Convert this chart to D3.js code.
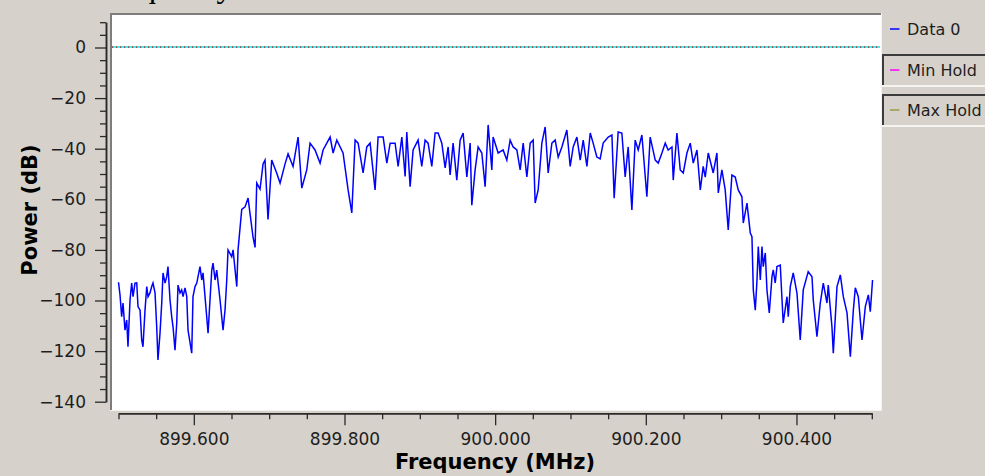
<!DOCTYPE html>
<html>
<head>
<meta charset="utf-8">
<script src="https://cdn.jsdelivr.net/npm/d3@7"></script>
<style>
  html, body { margin: 0; padding: 0; background: #d6d2cb; }
  svg { display: block; }
</style>
</head>
<body>
<svg id="chart" width="985" height="476"></svg>
<script>
// ---------------- DATA ----------------
const titleText = "Frequency";
const xLabel = "Frequency (MHz)";
const yLabel = "Power (dB)";
const startFreqMHz = 899.5;
const xDomain = [899.5, 900.5];
const yDomain = [-140, 10];
const xMajorTicks = [899.6, 899.8, 900.0, 900.2, 900.4];
const xMinorTicks = [899.5, 899.55, 899.65, 899.7, 899.75, 899.85, 899.9, 899.95, 900.05, 900.1, 900.15, 900.25, 900.3, 900.35, 900.45, 900.5];
const yMajorTicks = [0, -20, -40, -60, -80, -100, -120, -140];
const yMinorTicks = [10, 5, -5, -10, -15, -25, -30, -35, -45, -50, -55, -65, -70, -75, -85, -90, -95, -105, -110, -115, -125, -130, -135];
const legendNames = ["Data 0", "Min Hold", "Max Hold"];
const legendColors = ["#0000ff", "#ff00ff", "#9a9a4a"];

// offset from startFreqMHz in kHz
const freqOffsetKHz = [
  0.0, 2.0, 4.2, 6.0, 8.6, 10.9, 12.6, 15.3, 17.5, 19.3, 21.9, 24.2, 25.9, 28.6, 30.8, 32.5, 35.2, 37.5, 39.2, 41.8,
  44.1, 45.8, 48.5, 50.7, 52.4, 55.1, 57.4, 59.1, 61.8, 64.0, 65.7, 68.4, 70.6, 72.4, 75.0, 77.3, 79.0, 81.7, 83.9, 85.7,
  88.3, 90.6, 92.3, 97.2, 98.9, 101.6, 103.9, 105.6, 108.2, 110.5, 112.2, 117.1, 118.9, 123.8, 125.5, 128.2, 130.4, 134.8, 138.8, 141.4,
  143.7, 145.4, 150.3, 152.1, 157.0, 158.7, 163.6, 168.0, 172.0, 178.6, 181.3, 183.5, 187.9, 191.9, 194.5, 198.5, 203.4, 210.1, 214.5, 221.1,
  225.1, 231.7, 238.4, 243.3, 249.9, 254.3, 260.9, 267.6, 271.6, 280.9, 284.9, 289.8, 298.1, 304.8, 309.7, 314.1, 318.1, 324.7, 329.6, 334.0,
  340.6, 344.6, 351.3, 356.2, 360.6, 367.2, 371.2, 376.1, 380.5, 382.7, 387.1, 391.1, 397.7, 402.6, 407.0, 411.0, 415.9, 420.3, 424.3, 429.2,
  433.6, 437.6, 440.2, 444.2, 449.1, 453.5, 457.5, 462.4, 466.8, 469.0, 473.4, 477.4, 482.3, 486.7, 490.7, 495.6, 497.3, 504.0, 510.6, 515.5,
  519.9, 523.9, 528.8, 533.2, 537.2, 542.1, 546.5, 550.5, 553.1, 557.1, 562.0, 566.4, 570.4, 575.3, 579.7, 583.7, 588.6, 595.2, 599.6, 603.6,
  608.5, 612.9, 616.9, 621.8, 626.2, 630.1, 635.0, 639.4, 643.4, 650.1, 655.0, 658.0, 663.3, 668.2, 672.6, 676.6, 681.5, 685.9, 689.9, 694.8,
  701.4, 705.8, 712.5, 716.5, 721.4, 725.8, 729.7, 734.7, 736.4, 741.3, 745.7, 749.7, 754.6, 759.0, 763.0, 767.9, 772.3, 776.2, 778.9, 782.9,
  789.5, 794.4, 796.2, 801.0, 805.4, 809.4, 814.3, 818.7, 822.7, 827.6, 829.4, 834.3, 838.7, 840.9, 842.7, 845.3, 847.6, 849.3, 852.0, 854.2,
  855.9, 858.6, 860.8, 863.9, 867.5, 869.2, 871.8, 874.1, 878.5, 880.7, 882.4, 887.4, 889.1, 891.8, 895.7, 900.7, 905.0, 909.0, 915.6, 920.6,
  922.3, 927.2, 931.6, 935.6, 940.5, 942.2, 947.1, 948.9, 953.8, 958.2, 962.2, 967.1, 971.5, 975.5, 978.1, 982.1, 987.0, 991.4, 995.4, 998.0,
  1001.0
];
const powerDb = [
  -92.8, -97.8, -106.4, -101, -111.7, -107.7, -118.3, -99.8, -93.1, -98.5, -93.1, -93.0, -102.4, -103.8, -115.6, -118.3, -103.8, -94.5, -98.5, -97.0,
  -94.5, -93.1, -97.0, -110.4, -123.5, -112.9, -101, -89.1, -93.1, -90.6, -86.6, -99.8, -106.4, -110.4, -119.6, -109, -93.9, -97, -95.8, -98.5,
  -95, -98.5, -111.7, -120.8, -98.5, -94.5, -93.1, -90.6, -86.6, -91.9, -89.1, -106.4, -112.9, -88, -85.2, -91.9, -88, -99.8, -111.7, -103.8,
  -91.9, -80, -82.7, -80, -94.5, -80, -64, -63, -59.5, -75, -79, -53.6, -56, -46, -44.5, -68, -44.5, -49.7, -53.6, -46,
  -42, -47, -35.4, -55.6, -48.4, -37.8, -40.5, -45.7, -40.5, -35.4, -41.7, -36.6, -41.7, -56.3, -65.4, -36.6, -37.8, -49.6, -39.3, -37.8,
  -56.3, -35.4, -35.4, -45.7, -37.8, -37.8, -47, -35.4, -51, -33.4, -55, -40.5, -36.6, -47, -36.6, -37.8, -47, -33.8, -33.8, -37.8,
  -47.6, -39.3, -50.4, -37.8, -52.4, -36.6, -33.8, -51.2, -37.8, -62.3, -48.4, -39.3, -41.7, -55, -30.6, -48.4, -35.4, -41.7, -40.5, -44.5,
  -36.6, -39.3, -40.5, -48.4, -37.8, -51.2, -37.8, -36.6, -61.5, -56.3, -37.8, -31.4, -49.6, -37.8, -36.6, -43.3, -39.3, -32.6, -47, -39.3,
  -35.4, -44.5, -36.6, -47, -33.8, -37.8, -43.3, -44, -37.8, -35.4, -34.6, -59.6, -33.4, -33.8, -51.2, -39.3, -64.2, -36.6, -40.5, -34.6,
  -59, -35.4, -44.5, -45.7, -41.7, -37.8, -40.5, -39.3, -52.4, -33.8, -48.4, -49.6, -41.7, -37.8, -45.7, -40.5, -56.3, -47, -51.2, -41.7,
  -49.6, -41.7, -57.5, -48.4, -56.3, -72.1, -50.4, -51.2, -56.3, -59, -69.4, -61.5, -73.3, -74.8, -95.8, -103.8, -91.9, -78.7, -91.9, -78.7,
  -86.6, -81.2, -95.8, -104.9, -90.6, -87.9, -93.1, -86.6, -86, -99, -108.9, -98.5, -106.4, -94.5, -89.1, -97.2, -115.6, -95.8, -88.6, -90.6,
  -99.8, -114.3, -101, -93.1, -101, -93.9, -110.4, -120.8, -94.5, -89.9, -98.5, -104.9, -122.2, -103.8, -95, -98.5, -115.6, -102.4, -97.8, -104.4,
  -91.9
];

// ---------------- DRAW ----------------
const svg = d3.select("#chart");
const bg = "#d6d2cb";
const axisColor = "#2a2a2a";
const textColor = "#1e1e1e";
const font = "'DejaVu Sans', Verdana, sans-serif";

svg.append("rect").attr("width", 985).attr("height", 476).attr("fill", bg);

// title (cut off at top, as in the reference window)
const title = svg.append("text")
  .attr("font-family", "'Liberation Serif', 'Times New Roman', serif")
  .attr("font-size", 32).attr("fill", "#000")
  .attr("y", -3.5).text(titleText);
const tmp = svg.append("text").attr("font-family", "'Liberation Serif', serif").attr("font-size", 32).text("Fre");
const preW = tmp.node().getComputedTextLength();
tmp.remove();
title.attr("x", 153 - 13 - preW);

// scales
const x = d3.scaleLinear().domain(xDomain).range([118.5, 871.8]);
const y = d3.scaleLinear().domain(yDomain).range([401.7, 22.2]);

// canvas
const cv = { x0: 110, y0: 13, x1: 881, y1: 410 };
svg.append("rect").attr("x", cv.x0).attr("y", cv.y0)
  .attr("width", cv.x1 - cv.x0).attr("height", cv.y1 - cv.y0).attr("fill", "#ffffff");
svg.append("path").attr("d", `M${cv.x0 + 1},${cv.y1} V${cv.y0 + 1} H${cv.x1}`)
  .attr("fill", "none").attr("stroke", "#7d7d7d").attr("stroke-width", 2);
svg.append("path").attr("d", `M${cv.x0},${cv.y1 + 0.5} H${cv.x1 + 0.5} V${cv.y0}`)
  .attr("fill", "none").attr("stroke", "#f4f2ee").attr("stroke-width", 1);

svg.append("clipPath").attr("id", "clip").append("rect")
  .attr("x", cv.x0 + 2).attr("y", cv.y0 + 2)
  .attr("width", cv.x1 - cv.x0 - 3).attr("height", cv.y1 - cv.y0 - 3);

// zero marker line
const zy = Math.round(y(0));
svg.append("line").attr("x1", cv.x0 + 2).attr("x2", cv.x1 - 1).attr("y1", zy).attr("y2", zy)
  .attr("stroke", "#00e8ee").attr("stroke-width", 1.6);
svg.append("line").attr("x1", cv.x0 + 2).attr("x2", cv.x1 - 1).attr("y1", zy).attr("y2", zy)
  .attr("stroke", "#b03030").attr("stroke-width", 1.6).attr("stroke-dasharray", "1.2,2.8");

// data line
const pts = freqOffsetKHz.map((k, i) => [startFreqMHz + k / 1000, powerDb[i]]);
svg.append("path").datum(pts)
  .attr("clip-path", "url(#clip)")
  .attr("fill", "none").attr("stroke", "#0000ff").attr("stroke-width", 1.5)
  .attr("stroke-linejoin", "miter")
  .attr("d", d3.line().x(d => x(d[0])).y(d => y(d[1])));

// Y axis
const yAxisX = 106;
const gy = svg.append("g").attr("transform", `translate(${yAxisX},0)`);
gy.call(d3.axisLeft(y).tickValues(yMinorTicks).tickSize(6).tickSizeOuter(0).tickFormat(""));
gy.append("g").call(d3.axisLeft(y).tickValues(yMajorTicks).tickSize(11).tickSizeOuter(0).tickPadding(9)
  .tickFormat(d3.format("d")));
gy.selectAll("path.domain").attr("stroke", axisColor).attr("stroke-width", 1.5);
gy.selectAll(".tick line").attr("stroke", axisColor).attr("stroke-width", 1.3);
gy.selectAll("text").attr("font-family", font).attr("font-size", 17).attr("fill", textColor);

// X axis
const xAxisY = 413.3;
const gx = svg.append("g").attr("transform", `translate(0,${xAxisY})`);
gx.call(d3.axisBottom(x).tickValues(xMinorTicks).tickSize(6).tickSizeOuter(0).tickFormat(""));
gx.append("g").call(d3.axisBottom(x).tickValues(xMajorTicks).tickSize(12).tickSizeOuter(0).tickPadding(7.4)
  .tickFormat(d3.format(".3f")));
gx.selectAll("path.domain").attr("stroke", axisColor).attr("stroke-width", 1.5);
gx.selectAll(".tick line").attr("stroke", axisColor).attr("stroke-width", 1.3);
gx.selectAll("text").attr("font-family", font).attr("font-size", 17).attr("fill", textColor);

// axis titles
svg.append("text").attr("x", 495).attr("y", 469).attr("text-anchor", "middle")
  .attr("font-family", font).attr("font-weight", "bold").attr("font-size", 21).attr("fill", "#000")
  .text(xLabel);
svg.append("text").attr("transform", "translate(37,210) rotate(-90)").attr("text-anchor", "middle")
  .attr("font-family", font).attr("font-weight", "bold").attr("font-size", 21).attr("fill", "#000")
  .text(yLabel);

// legend
const legendRowsY = [29, 70, 110];
const lg = svg.append("g");
legendNames.forEach((name, i) => {
  const cy = legendRowsY[i];
  if (i > 0) {
    lg.append("path").attr("d", `M883,${cy + 16} V${cy - 15} H990`)
      .attr("fill", "none").attr("stroke", "#3c3c3c").attr("stroke-width", 2);
    lg.append("path").attr("d", `M882,${cy + 16} H990`)
      .attr("fill", "none").attr("stroke", "#f6f4f0").attr("stroke-width", 2);
  }
  lg.append("line").attr("x1", 890).attr("x2", 899.5).attr("y1", cy).attr("y2", cy)
    .attr("stroke", legendColors[i]).attr("stroke-width", 1.5);
  lg.append("text").attr("x", 907).attr("y", cy + 6)
    .attr("font-family", font).attr("font-size", 16).attr("fill", textColor).text(name);
});
</script>
</body>
</html>
